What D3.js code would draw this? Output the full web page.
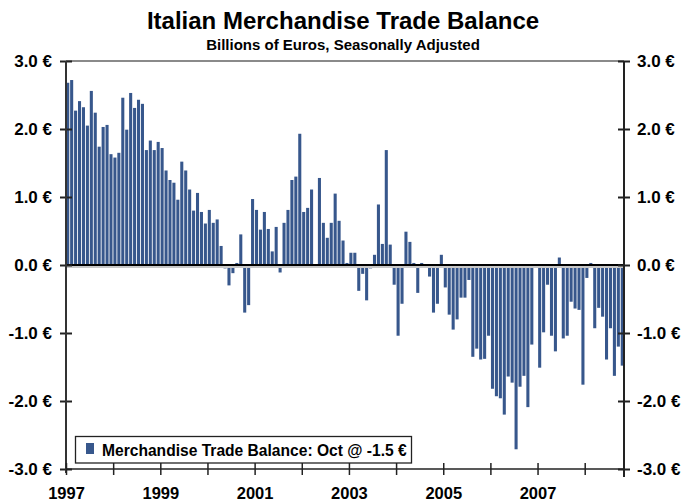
<!DOCTYPE html>
<html><head><meta charset="utf-8">
<script src="https://cdn.jsdelivr.net/npm/d3@7"></script>
<style>body{margin:0;background:#fff}svg{display:block}text{font-family:"Liberation Sans",Arial,sans-serif}</style>
</head><body><svg id="c" width="698" height="504"></svg>
<script>
const startYear = 1997;
const values = [
 2.68,2.72,2.27,2.41,2.32,2.05,2.56,2.24,1.74,2.03,2.06,1.63,
 1.58,1.65,2.46,1.99,2.53,2.31,2.43,2.37,1.69,1.83,1.69,1.81,
 1.72,1.39,1.25,1.21,0.96,1.52,1.39,1.11,0.80,1.06,0.78,0.61,
 0.81,0.62,0.67,0.28,-0.05,-0.30,-0.12,0.03,0.45,-0.70,-0.59,0.97,
 0.81,0.52,0.78,0.53,0.20,0.56,-0.11,0.62,0.81,1.25,1.30,1.93,
 0.78,0.84,1.11,0.00,1.28,0.62,0.40,0.62,1.05,0.65,0.36,0.03,
 0.18,0.18,-0.38,-0.13,-0.52,-0.05,0.15,0.89,0.31,1.69,0.30,-0.29,
 -1.04,-0.57,0.49,0.34,0.03,-0.41,0.03,-0.02,-0.17,-0.70,-0.57,0.15,
 -0.33,-0.73,-0.95,-0.80,-0.48,-0.48,-0.22,-1.35,-1.23,-1.39,-1.38,-1.04,
 -1.82,-1.93,-1.96,-2.20,-1.64,-1.73,-2.71,-1.79,-1.63,-2.09,-1.17,-0.02,
 -1.51,-0.99,-0.29,-1.04,-1.27,0.11,-1.08,-1.04,-0.54,-0.64,-0.66,-1.76,
 -0.19,0.03,-0.93,-0.63,-0.76,-1.39,-0.93,-1.63,-1.20,-1.48
];
const yTicks = [-3,-2,-1,0,1,2,3];
const yearLabels = ["1997","1999","2001","2003","2005","2007"];
const title = "Italian Merchandise Trade Balance";
const subtitle = "Billions of Euros, Seasonally Adjusted";
const legendText = "Merchandise Trade Balance: Oct @ -1.5 €";

const svg = d3.select("#c");
const L = 66, R = 624, T = 61, B = 469;
const n = values.length;
const x = d3.scaleBand().domain(d3.range(n)).range([L, R]).paddingInner(0.22).paddingOuter(0.05);
const xm = d3.scaleLinear().domain([0, n]).range([L, R]);
const y = d3.scaleLinear().domain([-3, 3]).range([B, T]);
const barColor = "#37578c";
const fmt = d => d.toFixed(1) + " €";

// title
svg.append("text").attr("x", 343).attr("y", 29).attr("text-anchor", "middle")
  .attr("font-size", 24).attr("font-weight", "bold").attr("fill", "#000").text(title);
svg.append("text").attr("x", 343).attr("y", 50).attr("text-anchor", "middle")
  .attr("font-size", 15).attr("font-weight", "bold").attr("fill", "#000").text(subtitle);

// top frame line
svg.append("line").attr("x1", L).attr("x2", R).attr("y1", T).attr("y2", T)
  .attr("stroke", "#8a8a8a").attr("stroke-width", 2);

// bars
svg.append("g").selectAll("rect").data(values).join("rect")
  .attr("x", (d, i) => x(i)).attr("width", x.bandwidth())
  .attr("y", d => y(Math.max(0, d))).attr("height", d => Math.abs(y(d) - y(0)))
  .attr("fill", barColor);

// zero line with shadow
svg.append("line").attr("x1", L).attr("x2", R).attr("y1", y(0) + 2).attr("y2", y(0) + 2)
  .attr("stroke", "#c8c8c8").attr("stroke-width", 2);
svg.append("line").attr("x1", L).attr("x2", R).attr("y1", y(0)).attr("y2", y(0))
  .attr("stroke", "#000").attr("stroke-width", 2);

// left axis
const gl = svg.append("g").attr("transform", `translate(${L},0)`)
  .call(d3.axisLeft(y).tickValues(yTicks).tickFormat(fmt).tickSize(6).tickPadding(8));
gl.select(".domain").remove();
gl.selectAll(".tick line").attr("x1", -6).attr("x2", 6).attr("stroke", "#222").attr("stroke-width", 2);
gl.selectAll(".tick text").attr("font-size", 17).attr("font-weight", "bold").attr("fill", "#000")
  .attr("font-family", "Liberation Sans, Arial, sans-serif").attr("x", -14);
svg.append("line").attr("x1", L).attr("x2", L).attr("y1", T).attr("y2", B + 4)
  .attr("stroke", "#333").attr("stroke-width", 2);

// right axis
const gr = svg.append("g").attr("transform", `translate(${R},0)`)
  .call(d3.axisRight(y).tickValues(yTicks).tickFormat(fmt).tickSize(6).tickPadding(8));
gr.select(".domain").remove();
gr.selectAll(".tick line").attr("x1", -6).attr("x2", 6).attr("stroke", "#222").attr("stroke-width", 2);
gr.selectAll(".tick text").attr("font-size", 17).attr("font-weight", "bold").attr("fill", "#000")
  .attr("font-family", "Liberation Sans, Arial, sans-serif").attr("x", 13);
svg.append("line").attr("x1", R).attr("x2", R).attr("y1", T).attr("y2", B + 8)
  .attr("stroke", "#222").attr("stroke-width", 2);

// bottom axis
const yearTicks = d3.range(0, n, 12);
const gb = svg.append("g").attr("transform", `translate(0,${B})`)
  .call(d3.axisBottom(xm).tickValues(yearTicks)
    .tickFormat(v => { const yr = String(startYear + v / 12); return yearLabels.includes(yr) ? yr : ""; })
    .tickSize(6));
gb.select(".domain").remove();
gb.selectAll(".tick line").attr("y1", -6).attr("y2", 6).attr("stroke", "#222").attr("stroke-width", 1.5);
gb.selectAll(".tick text").attr("font-size", 16.5).attr("font-weight", "bold").attr("fill", "#000")
  .attr("font-family", "Liberation Sans, Arial, sans-serif").attr("y", 30).attr("dy", 0);
svg.append("line").attr("x1", L).attr("x2", R).attr("y1", B).attr("y2", B)
  .attr("stroke", "#222").attr("stroke-width", 1.5);

// legend
const lg = svg.append("g");
lg.append("rect").attr("x", 75.5).attr("y", 436.5).attr("width", 336).attr("height", 26.5)
  .attr("fill", "#fff").attr("stroke", "#222").attr("stroke-width", 1.3);
lg.append("rect").attr("x", 86).attr("y", 443).attr("width", 8).attr("height", 11).attr("fill", barColor);
lg.append("text").attr("x", 102).attr("y", 455.5).attr("font-size", 15.6).attr("font-weight", "bold")
  .attr("fill", "#000").text(legendText);
</script></body></html>
